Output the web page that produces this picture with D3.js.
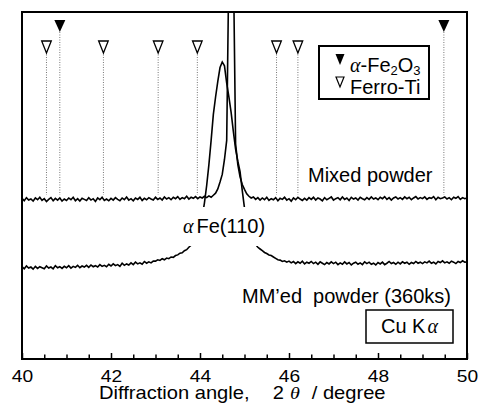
<!DOCTYPE html>
<html lang="en">
<head>
<meta charset="utf-8">
<script src="https://d3js.org/d3.v7.min.js"></script>
<style>
  body { margin: 0; background: #fff; }
  text { font-family: "Liberation Sans", Arial, sans-serif; fill: #000; }
</style>
</head>
<body>
<div id="chart"></div>
<script>
// 2theta grid, 40 - 50 degree, step 0.05
const angles = d3.range(0, 201).map(function(i) { return +(40 + i * 0.05).toFixed(2); });

// intensity (arb. units)
const mixedPowder = [
  46.3, 45.6, 46.5, 45.8, 46.1, 45.5, 46.4, 45.9, 46.6, 45.7,
  46.2, 45.4, 46.0, 46.5, 45.6, 46.3, 45.8, 46.4, 45.5, 46.1,
  45.7, 46.4, 45.9, 46.6, 45.6, 46.2, 45.5, 46.3, 46.0, 45.7,
  46.5, 45.8, 46.2, 45.4, 46.4, 45.9, 46.6, 45.7, 46.1, 45.6,
  46.3, 45.8, 46.5, 46.0, 45.6, 46.4, 45.9, 46.7, 45.8, 46.2,
  45.6, 46.4, 46.0, 46.6, 45.7, 46.3, 45.9, 46.5, 46.1, 45.8,
  46.6, 46.0, 46.4, 45.8, 46.7, 46.1, 46.5, 45.9, 46.6, 46.2,
  46.8, 46.0, 46.5, 46.2, 46.9, 46.1, 46.6, 46.3, 46.8, 46.2,
  46.7, 46.4, 46.9, 46.5, 47.0, 46.6,
  47.2, 47.8, 49.0, 51.0, 53.2, 57.5, 63.0, 115, 160, 115,
  62.0, 56.0, 52.5, 50.3, 48.9, 47.6, 46.9, 46.4,
  46.7, 46.0, 46.5, 45.8, 46.4, 45.9,
  46.6, 45.7, 46.2, 45.9, 46.5, 45.6, 46.3, 46.0, 46.6, 45.8,
  46.2, 45.5, 46.4, 45.9, 46.6, 46.1, 45.7, 46.3, 45.8, 46.5,
  46.0, 46.6, 45.8, 46.4, 46.1, 45.6, 46.5, 45.9, 46.3, 46.7,
  45.8, 46.2, 46.5, 45.9, 46.7, 46.0, 46.4, 45.7, 46.6, 46.1,
  46.4, 45.8, 46.6, 46.2, 45.9, 46.5, 46.0, 46.7, 46.1, 46.4,
  45.9, 46.6, 46.2, 46.8, 46.0, 46.5, 45.8, 46.4, 46.7, 46.1,
  46.5, 46.0, 46.7, 46.2, 46.6, 45.9, 46.4, 46.8, 46.1, 46.5,
  46.2, 46.7, 46.0, 46.5, 46.3, 46.8, 45.9, 46.6, 46.2, 46.4,
  46.7, 46.1, 46.5, 45.9, 46.6, 46.3, 46.8, 46.0, 46.5, 46.2,
  46.4
];

const mmedPowder = [
  26.6, 26.0, 26.8, 26.2, 26.5, 25.9, 26.7, 26.1, 26.6, 26.3,
  26.0, 26.8, 26.2, 26.5, 26.0, 26.9, 26.3, 26.6, 26.1, 26.7,
  26.3, 26.9, 26.2, 26.7, 26.4, 27.0, 26.3, 26.8, 26.5, 27.0,
  26.4, 27.1, 26.6, 26.9, 26.5, 27.2, 26.7, 27.0, 26.6, 27.3,
  26.8, 27.4, 26.9, 27.2, 26.7, 27.6, 27.0, 27.4, 27.1, 27.7,
  27.2, 27.9, 27.4, 27.7, 27.3, 28.1, 27.6, 28.0, 27.7, 28.2,
  28.2, 28.6, 28.4, 28.9, 28.6, 29.1, 28.9, 29.4, 29.3, 29.8,
  30.0, 30.5, 30.6, 31.2, 31.5, 32.2, 32.8, 33.6, 34.8, 36.2,
  38.5, 41.0, 45.0, 50.0, 56.0, 63.0, 70.5, 75.5, 80.0, 84.0,
  85.6, 84.5, 79.5, 75.5, 71.0, 65.5, 60.5, 57.0, 54.0, 48.5,
  43.5, 40.0, 37.5, 35.5, 34.0, 33.0, 32.2, 31.7, 31.2, 30.7,
  30.4, 30.0, 29.8, 29.4, 29.0, 28.6, 28.5, 28.1, 28.3, 27.9,
  28.2, 27.7, 28.1, 27.5, 28.0, 27.6, 28.2, 27.4, 27.9, 27.6,
  28.1, 27.5, 27.9, 27.3, 28.0, 27.6, 27.2, 27.8, 27.4, 28.0,
  27.5, 27.9, 27.2, 27.7, 27.3, 28.0, 27.4, 27.8, 27.1, 27.6,
  27.9, 27.3, 27.7, 27.2, 28.0, 27.5, 27.9, 27.3, 27.6, 27.1,
  27.8, 27.4, 27.9, 27.2, 27.6, 28.1, 27.5, 27.8, 27.3, 27.9,
  27.4, 28.0, 27.6, 27.9, 27.3, 27.8, 27.5, 28.1, 27.6, 27.9,
  27.5, 28.0, 27.7, 28.2, 27.6, 27.9, 27.4, 28.1, 27.8, 28.3,
  27.7, 28.0, 27.6, 28.2, 27.9, 27.5, 28.1, 27.8, 28.3, 27.9,
  28.0
];

// reference peak positions
const hematitePeaks = [40.85, 49.48];
const ferroTiPeaks = [40.55, 41.83, 43.06, 43.94, 45.72, 46.20];

// axis ticks
const xTicks = d3.range(0, 21).map(function(i) { return 40 + i * 0.5; });
const xTickLabels = [40, 42, 44, 46, 48, 50];

// set the dimensions and margins of the graph
const margin = {top: 12, right: 12, bottom: 54, left: 22};
const width = 479 - margin.left - margin.right;
const height = 413 - margin.top - margin.bottom;

var svg = d3.select("#chart")
  .append("svg")
  .attr("width", 479)
  .attr("height", 413)
  .append("g")
  .attr("transform", "translate(" + margin.left + "," + margin.top + ")");

var x = d3.scaleLinear().domain([40, 50]).range([0, width]);
var y = d3.scaleLinear().domain([0, 100]).range([height, 0]);

svg.append("clipPath").attr("id", "plotclip")
  .append("rect").attr("x", 0).attr("y", 0).attr("width", width).attr("height", height);

// dotted guide lines under the peak markers
var markerLineEnd = 47.3;
svg.selectAll(".guideH")
  .data(hematitePeaks)
  .enter().append("line")
  .attr("x1", function(d) { return x(d); })
  .attr("x2", function(d) { return x(d); })
  .attr("y1", 20)
  .attr("y2", y(markerLineEnd))
  .attr("stroke", "#777").attr("stroke-width", 1).attr("stroke-dasharray", "1,1.5");

svg.selectAll(".guideF")
  .data(ferroTiPeaks)
  .enter().append("line")
  .attr("x1", function(d) { return x(d); })
  .attr("x2", function(d) { return x(d); })
  .attr("y1", 40)
  .attr("y2", y(markerLineEnd))
  .attr("stroke", "#777").attr("stroke-width", 1).attr("stroke-dasharray", "1,1.5");

// triangles
svg.selectAll(".triH")
  .data(hematitePeaks)
  .enter().append("path")
  .attr("d", "M-5.5,0L5.5,0L0,12Z")
  .attr("transform", function(d) { return "translate(" + x(d) + ",8)"; })
  .attr("fill", "#000");

svg.selectAll(".triF")
  .data(ferroTiPeaks)
  .enter().append("path")
  .attr("d", "M-4.8,0L4.8,0L0,12Z")
  .attr("transform", function(d) { return "translate(" + x(d) + ",29)"; })
  .attr("fill", "#fff").attr("stroke", "#000").attr("stroke-width", 1.3);

// the two patterns
var line = d3.line()
  .x(function(d, i) { return x(angles[i]); })
  .y(function(d) { return y(d); });

var curves = svg.append("g").attr("clip-path", "url(#plotclip)");
curves.append("path")
  .datum(mmedPowder)
  .attr("d", line)
  .attr("fill", "none").attr("stroke", "#000").attr("stroke-width", 1.6);
curves.append("path")
  .datum(mixedPowder)
  .attr("d", line)
  .attr("fill", "none").attr("stroke", "#000").attr("stroke-width", 1.6);

// label with white background (hides part of the MM'ed peak)
svg.append("rect")
  .attr("x", 160).attr("y", 195).attr("width", 82).attr("height", 39)
  .attr("fill", "#fff");
var peakLbl = svg.append("text").attr("x", 161).attr("y", 221).style("font-size", "20px");
peakLbl.append("tspan").style("font-family", "'Liberation Serif', serif").style("font-style", "italic").text("\u03b1");
peakLbl.append("tspan").attr("dx", 3).text("Fe(110)");

svg.append("text").attr("x", 286).attr("y", 170).style("font-size", "20px").text("Mixed powder");
svg.append("text").attr("x", 220).attr("y", 291).style("font-size", "20px")
  .style("white-space", "pre").attr("xml:space", "preserve")
  .text("MM\u2019ed  powder (360ks)");

// Cu K alpha box
svg.append("rect")
  .attr("x", 344).attr("y", 298).attr("width", 87).attr("height", 33)
  .attr("fill", "#fff").attr("stroke", "#000").attr("stroke-width", 1.5);
var cuLbl = svg.append("text").attr("x", 359).attr("y", 321).style("font-size", "20px");
cuLbl.append("tspan").text("Cu K");
cuLbl.append("tspan").attr("dx", 2).style("font-family", "'Liberation Serif', serif").style("font-style", "italic").text("\u03b1");

// legend
var legend = svg.append("g").attr("transform", "translate(297,34)");
legend.append("rect")
  .attr("x", 0).attr("y", 0).attr("width", 110).attr("height", 53)
  .attr("fill", "#fff").attr("stroke", "#000").attr("stroke-width", 2);
legend.append("path").attr("d", "M-4.5,0L4.5,0L0,11Z")
  .attr("transform", "translate(21,8)").attr("fill", "#000");
legend.append("path").attr("d", "M-4,0L4,0L0,10Z")
  .attr("transform", "translate(21,31)").attr("fill", "#fff").attr("stroke", "#000").attr("stroke-width", 1.2);
var l1 = legend.append("text").attr("x", 31).attr("y", 26).style("font-size", "20px");
l1.append("tspan").style("font-family", "'Liberation Serif', serif").style("font-style", "italic").text("\u03b1");
l1.append("tspan").text("-Fe");
l1.append("tspan").attr("dy", 3).style("font-size", "13px").text("2");
l1.append("tspan").attr("dy", -3).text("O");
l1.append("tspan").attr("dy", 3).style("font-size", "13px").text("3");
legend.append("text").attr("x", 31).attr("y", 48).style("font-size", "20px").text("Ferro-Ti");

// X axis (inward ticks)
var xAxis = svg.append("g")
  .attr("transform", "translate(0," + height + ")")
  .call(d3.axisBottom(x)
    .tickValues(xTicks)
    .tickSizeInner(-4)
    .tickSizeOuter(0)
    .tickPadding(11)
    .tickFormat(function(d) { return xTickLabels.indexOf(d) >= 0 ? d : ""; }));
xAxis.select(".domain").remove();
xAxis.selectAll(".tick line")
  .attr("stroke", "#000").attr("stroke-width", 1.5)
  .attr("y2", function(d) { return xTickLabels.indexOf(d) >= 0 ? -6 : -4.5; });
// labels in the picture are a little wider than tall
xAxis.selectAll(".tick text")
  .style("font-size", "17px")
  .style("font-family", "'Liberation Sans', Arial, sans-serif")
  .attr("transform", "scale(1.13,1)");

// frame
svg.append("rect")
  .attr("x", 0).attr("y", 0).attr("width", width).attr("height", height)
  .attr("fill", "none").attr("stroke", "#000").attr("stroke-width", 2);

// axis title
var title = svg.append("g")
  .attr("transform", "translate(77,387) scale(1.15,1)")
  .append("text").style("font-size", "17.5px");
title.append("tspan").attr("x", 0).text("Diffraction angle,");
title.append("tspan").attr("x", 151).text("2");
title.append("tspan").attr("x", 166).style("font-family", "'Liberation Serif', serif").style("font-style", "italic").text("\u03b8");
title.append("tspan").attr("x", 185).text("/ degree");
</script>
</body>
</html>
